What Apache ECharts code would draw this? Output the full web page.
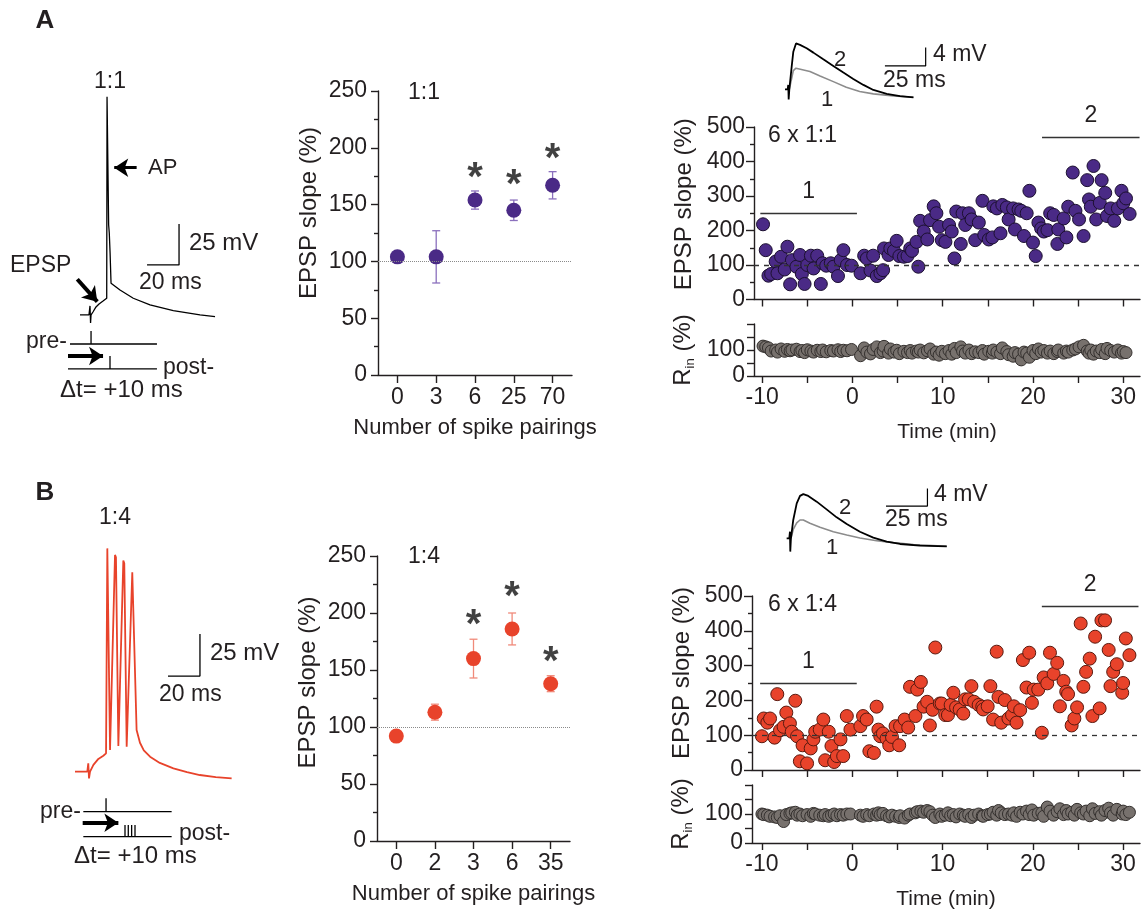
<!DOCTYPE html>
<html>
<head>
<meta charset="utf-8">
<title>STDP 1:1 / 1:4</title>
<script src="https://cdn.jsdelivr.net/npm/echarts@6.0.0/dist/echarts.min.js"></script>
<style>
  html, body { margin: 0; padding: 0; background: #fff; }
  #main { width: 1144px; height: 915px; }
</style>
</head>
<body>
<div id="main"></div>
<script>
// ---- traces (ms, mV) ----
var apTraceA = [[0,-70],[5.6,-70],[6.25,-64.5],[6.6,-74.9],[6.9,-70],[8.1,-68.2],[10,-65.1],[11.9,-63.3],[14.4,-61.5],[16.7,-59.8],[16.9,63.1],[17.6,63.1],[17.9,-15],[18.3,-20],[18.8,-32],[19.4,-50.7],[25,-54.8],[33.3,-59.8],[43.75,-63.9],[58.3,-67.4],[75,-70],[84.4,-71]];
var apTraceB = [[0,-69.2],[7.7,-69.2],[8.3,-64.2],[8.75,-73.2],[9.4,-69.2],[11.5,-65.2],[14.6,-61.6],[17.7,-59.7],[19.4,-58.3],[20.2,63.7],[21.0,62.7],[21.9,-56.3],[22.5,-56.0],[25,59.8],[25.6,58.4],[27.1,-53.9],[27.7,-53.9],[30.2,56.4],[30.8,54.8],[32.3,-54.3],[33.3,-53.3],[35.8,49.5],[36.5,48.5],[38.5,-44.4],[40.6,-52],[43,-56.5],[46.9,-60.3],[53,-64],[61.5,-67.2],[70,-69.5],[78,-71.2],[88,-72.4],[97.9,-73.2]];
var scaleTraceA = [[41.9,-39.5],[61.9,-39.5],[61.9,-14.5]];
var scaleTraceB = [[58.1,-12.3],[78.1,-12.3],[78.1,12.7]];
// stimulus diagrams: line segments and arrows
var diagA = [[[-6.25,-87.7],[48.1,-87.7]], [[6.9,-87.7],[6.9,-79.8]], [[-7.5,-102.9],[48.1,-102.9]], [[18.75,-102.9],[18.75,-95]]];
var diagB = [[[5.2,-93],[60.4,-93]], [[19.4,-93],[19.4,-85.1]], [[5.2,-107.9],[60.4,-107.9]], [[31.25,-107.9],[31.25,-101]], [[33.3,-107.9],[33.3,-101]], [[35.4,-107.9],[35.4,-101]], [[37.5,-107.9],[37.5,-101]]];
var arrowsA = [[[35.4,19.8],[21.4,19.8],3], [[-1.7,-48.2],[10.8,-61.9],4], [[-7.5,-95],[14.4,-95],4]];
var arrowsB = [[[4.8,-99.6],[27.1,-99.6],4]];

// ---- inset EPSPs (ms, mV) ----
var epsp2A = [[0,0],[1.6,0],[2.0,0.95],[2.25,-2.2],[2.66,0],[4.1,4.95],[5.1,8.2],[6.75,10.0],[9.2,9.7],[13.3,8.95],[17.4,8.0],[23.5,6.55],[29.65,5.1],[35.8,3.64],[41.9,2.26],[48.1,0.95],[54.2,-0.15],[62.4,-1.0],[70.55,-1.5],[78.8,-1.75]];
var epsp1A = [[2.66,0],[4.1,2.4],[5.1,4.07],[6.75,4.6],[9.4,4.37],[15.3,3.86],[21.5,2.9],[29.65,1.67],[37.6,0.44],[45.8,-0.5],[54.2,-1.0],[66.5,-1.45],[78.8,-1.75]];
var scaleInsetA = [[61.3,5.1],[86.3,5.1],[86.3,9.1]];
var epsp2B = [[0,0],[1.6,0],[2.0,1.5],[2.2,-3.0],[2.6,0],[4.0,4.15],[6.1,7.9],[8.1,9.6],[10.1,10.0],[13.1,9.6],[18.2,8.3],[24.2,6.56],[30.3,4.75],[36.4,3.24],[44.4,1.5],[52.5,0.15],[60.6,-0.75],[68.7,-1.28],[80.8,-1.66],[97.0,-1.8]];
var epsp1B = [[2.6,0],[4.0,2.0],[6.1,3.5],[8.1,4.15],[10.1,4.15],[14.1,3.4],[20.2,2.5],[28.3,1.5],[36.4,0.75],[44.4,0.08],[54.5,-0.53],[64.6,-0.98],[76.8,-1.43],[97.0,-1.8]];
var scaleInsetB = [[60.2,7.3],[85.3,7.3],[85.3,11.3]];

// ---- summary: EPSP slope vs number of pairings ----
var catA = ['0','3','6','25','70'];
var meanA = [104, 104, 154, 145, 167];
var semA = [3, 23, 8, 9, 12];
var starA = [null, null, 181, 175, 198];
var catB = ['0','2','3','6','35'];
var meanB = [92, 113, 160, 186, 138];
var semB = [3, 7, 17, 14, 7];
var starB = [null, null, 197, 222, 165];

// ---- time courses [min, %] ----
var epspA = [[-9.9,218],[-9.6,143],[-9.3,69],[-9.0,74],[-8.5,110],[-8.3,76],[-7.9,124],[-7.5,87],[-7.2,153],[-6.9,44],
  [-6.7,114],[-6.2,95],[-5.8,129],[-5.6,74],[-5.3,45],[-5.0,100],[-4.6,127],[-4.3,90],[-3.9,127],[-3.5,45],
  [-3.3,105],[-2.9,98],[-2.4,105],[-2.1,95],[-1.6,68],[-1.3,114],[-1.0,143],[-0.6,100],[-0.1,98],
  [0.9,76],[1.3,127],[1.6,119],[2.0,84],[2.3,127],[2.7,68],[3.1,76],[3.4,85],[3.5,148],[4.0,129],
  [4.2,148],[4.6,141],[4.9,170],[5.2,126],[5.7,124],[6.1,126],[6.4,148],[6.6,141],[7.1,167],[7.3,95],
  [7.5,228],[7.9,197],[8.3,174],[8.6,230],[9.0,270],[9.3,250],[9.6,211],[9.9,172],[10.3,167],
  [10.7,216],[11.0,197],[11.3,119],[11.5,255],[12.0,161],[12.2,250],[12.5,216],[12.9,250],[13.2,232],[13.6,172],[14.0,223],
  [14.4,286],[14.6,187],[15.1,174],[15.5,180],[15.6,270],[16.0,264],[16.4,192],[16.6,274],[17.1,267],[17.3,232],
  [17.8,264],[18.0,203],[18.4,261],[18.7,257],[19.0,184],[19.3,250],[19.6,315],[20.0,165],[20.3,126],[20.6,223],
  [20.9,206],[21.2,197],[21.6,201],[21.9,250],[22.3,245],[22.7,161],[22.8,203],[23.4,235],[23.7,180],[23.9,269],
  [24.4,368],[24.7,257],[25.1,232],[25.6,184],[26.0,346],[26.2,290],[26.4,269],[26.7,387],[27.0,232],[27.4,280],
  [27.6,346],[28.0,309],[28.2,242],[28.6,264],[29.0,228],[29.4,264],[29.8,315],[30.0,279],[30.3,293],[30.7,248]];
var rinA = [115,112,108,96,100,92,104,95,102,97,
  100,103,94,98,90,101,96,92,99,94,
  100,93,98,96,101,94,99,97,102,
  78,108,92,85,102,112,90,96,114,88,
  104,92,99,86,95,90,98,88,96,92,
  100,89,97,104,84,92,80,95,86,
  98,84,106,90,112,96,88,100,86,93,
  90,98,84,95,88,100,92,86,108,94,
  82,76,90,84,62,92,88,72,98,86,
  104,92,98,88,96,86,94,100,88,96,
  92,100,104,112,118,96,88,100,84,96,
  90,102,86,106,98,92,100,88,94,90];
var epspB = [[-10.0,97],[-9.8,148],[-9.4,136],[-9.1,148],[-8.6,93],[-8.3,218],[-8.0,114],[-7.6,124],[-7.3,165],[-6.9,134],
  [-6.7,110],[-6.3,199],[-6.1,97],[-5.8,25],[-5.5,71],[-5.0,19],[-4.6,62],[-4.3,88],[-4.1,110],[-3.6,116],
  [-3.2,145],[-3.0,28],[-2.6,110],[-2.3,69],[-2.0,23],[-1.7,40],[-1.3,88],[-1.0,40],[-0.6,155],[-0.2,116],
  [0.9,126],[1.2,155],[1.6,145],[1.9,54],[2.4,49],[2.7,182],[2.9,116],[3.1,97],[3.4,105],[3.8,90],
  [4.1,71],[4.4,95],[4.8,126],[5.2,71],[5.3,126],[5.8,145],[6.2,122],[6.4,239],[7.0,155],[7.2,231],
  [7.6,253],[7.9,182],[8.3,196],[8.6,128],[8.9,173],[9.2,352],[9.7,191],[9.9,191],[10.3,158],[10.6,158],
  [10.9,187],[11.2,222],[11.5,180],[11.9,174],[12.3,162],[12.5,203],[12.9,203],[13.2,241],[13.5,196],[14.0,187],
  [14.4,182],[14.5,174],[15.0,183],[15.3,241],[15.6,145],[16.0,340],[16.2,210],[16.5,136],[16.9,201],[17.3,148],
  [17.7,158],[17.9,183],[18.2,136],[18.6,172],[18.9,316],[19.3,237],[19.6,337],[19.9,193],[20.1,231],[20.6,231],
  [21.0,107],[21.2,266],[21.6,249],[21.9,337],[22.3,276],[22.7,308],[23.0,183],[23.4,256],[23.7,225],[23.9,218],
  [24.3,128],[24.6,148],[24.9,180],[25.3,421],[25.6,239],[25.9,282],[26.3,320],[26.6,155],[26.9,383],[27.4,177],
  [27.6,430],[28.0,430],[28.4,345],[28.6,241],[28.9,282],[29.3,304],[29.9,222],[30.0,250],[30.3,378],[30.7,330]];
var rinB = [100,98,96,92,90,88,94,74,98,102,
  104,106,96,100,94,98,92,102,100,96,
  94,98,92,96,100,94,98,96,100,100,
  96,92,98,94,100,96,104,98,102,94,
  90,96,92,88,94,86,96,100,104,108,
  110,106,112,108,96,88,100,92,96,104,
  94,98,90,100,96,92,98,88,96,100,
  94,92,98,100,106,96,112,104,98,100,
  96,104,92,106,100,110,98,114,96,102,
  104,92,124,110,96,108,118,98,112,100,
  106,96,116,104,100,110,94,118,102,108,
  96,112,120,104,96,116,100,110,98,106];
// horizontal bars marking epochs 1 and 2: [from, to, level]
var barsA = [[-10.2, 0.5, 250, '1'], [21, 31.8, 470, '2']];
var barsB = [[-10.2, 0.5, 250, '1'], [21, 31.7, 470, '2']];
var timeTicks = [-10,-5,0,5,10,15,20,25,30];
var timeLabels = [-10,0,10,20,30];

var FONT = '"Liberation Sans", Arial, Helvetica, sans-serif';
var INK = '#231f20';
var PURPLE = '#4a2a86';
var RED = '#e8432b';

var chart = echarts.init(document.getElementById('main'), null, { renderer: 'canvas' });

var txt = { color: INK, fontFamily: FONT, fontSize: 23 };
var nameTxt = { color: INK, fontFamily: FONT, fontSize: 24 };
var axLine = { show: true, onZero: false, lineStyle: { color: INK, width: 1.4 } };
var tickStyle = { color: INK, width: 1.4 };

function hid(g, min, max) {
  return { gridIndex: g, type: 'value', min: min, max: max, show: false };
}
function catAxis(g, data) {
  return {
    gridIndex: g, type: 'category', data: data, boundaryGap: true,
    axisLine: axLine,
    axisTick: { show: true, alignWithLabel: true, length: 8, lineStyle: tickStyle },
    axisLabel: Object.assign({ margin: 11 }, txt),
    splitLine: { show: false },
    name: 'Number of spike pairings', nameLocation: 'middle', nameGap: 42,
    nameMoveOverlap: false, nameTextStyle: Object.assign({}, txt, { fontSize: 22 })
  };
}
function slopeAxis(g, shift) {
  return {
    gridIndex: g, type: 'value', min: 0, max: 250, interval: 50,
    axisLine: axLine,
    axisTick: { show: true, length: 7, lineStyle: tickStyle },
    minorTick: { show: true, splitNumber: 2, length: 4, lineStyle: tickStyle },
    axisLabel: Object.assign({ margin: 11 }, txt),
    splitLine: { show: false }, minorSplitLine: { show: false },
    name: 'EPSP slope (%)', nameLocation: 'middle', nameGap: 57,
    nameMoveOverlap: false,
    nameTextStyle: Object.assign({ padding: [0, 0, 0, shift] }, nameTxt)
  };
}
function timeAxis(g, min, max, labels) {
  var ax = {
    gridIndex: g, type: 'value', min: min, max: max,
    axisLine: axLine,
    axisTick: { show: true, length: 7, customValues: timeTicks, lineStyle: tickStyle },
    axisLabel: labels ? Object.assign({ margin: 10, customValues: timeLabels }, txt) : { show: false },
    splitLine: { show: false }
  };
  if (labels) {
    ax.name = 'Time (min)'; ax.nameLocation = 'middle'; ax.nameGap = 46;
    ax.nameMoveOverlap = false;
    ax.nameTextStyle = Object.assign({}, txt, { fontSize: 21 });
  }
  return ax;
}
function tcSlopeAxis(g, shift) {
  return {
    gridIndex: g, type: 'value', min: 0, max: 500, interval: 100,
    axisLine: axLine,
    axisTick: { show: true, length: 8, lineStyle: tickStyle },
    minorTick: { show: true, splitNumber: 2, length: 4, lineStyle: tickStyle },
    axisLabel: Object.assign({ margin: 9 }, txt),
    splitLine: { show: false }, minorSplitLine: { show: false },
    name: 'EPSP slope (%)', nameLocation: 'middle', nameGap: 58,
    nameMoveOverlap: false,
    nameTextStyle: Object.assign({ padding: [0, 0, 0, shift] }, nameTxt)
  };
}
function rinAxis(g) {
  return {
    gridIndex: g, type: 'value', min: 0, max: 200, interval: 50,
    axisLine: axLine,
    axisTick: { show: true, length: 7, customValues: [0, 50, 100, 150, 200], lineStyle: tickStyle },
    axisLabel: Object.assign({ margin: 9, customValues: [0, 100] }, txt),
    splitLine: { show: false },
    name: '{r|R}{s|in}{r| (%)}', nameLocation: 'middle', nameGap: 57,
    nameMoveOverlap: false,
    nameTextStyle: {
      rich: {
        r: { fontSize: 24, fontFamily: FONT, color: INK, lineHeight: 28, verticalAlign: 'middle' },
        s: { fontSize: 13, fontFamily: FONT, color: INK, lineHeight: 28, verticalAlign: 'bottom' }
      }
    }
  };
}

function lineSeries(xi, data, color, width) {
  return {
    type: 'line', xAxisIndex: xi, yAxisIndex: xi, data: data, symbol: 'none',
    lineStyle: { color: color, width: width }, silent: true, z: 2
  };
}
function segSeries(xi, segs) {
  return segs.map(function (s) { return lineSeries(xi, s, '#000', 1.3); });
}
function arrowSeries(xi, arrows) {
  return {
    type: 'line', xAxisIndex: xi, yAxisIndex: xi, data: [], symbol: 'none', silent: true,
    markLine: {
      silent: true, symbol: ['none', 'arrow'], symbolSize: 14, animation: false,
      label: { show: false },
      data: arrows.map(function (a) {
        return [{ coord: a[0], lineStyle: { color: '#000', width: a[2], type: 'solid' } }, { coord: a[1] }];
      })
    }
  };
}
function errBar(color) {
  return function (params, api) {
    var lo = api.coord([api.value(0), api.value(1)]);
    var hi = api.coord([api.value(0), api.value(2)]);
    var w = 4;
    var st = { stroke: color, lineWidth: 1.3 };
    return {
      type: 'group', children: [
        { type: 'line', shape: { x1: lo[0], y1: lo[1], x2: hi[0], y2: hi[1] }, style: st },
        { type: 'line', shape: { x1: lo[0] - w, y1: lo[1], x2: lo[0] + w, y2: lo[1] }, style: st },
        { type: 'line', shape: { x1: hi[0] - w, y1: hi[1], x2: hi[0] + w, y2: hi[1] }, style: st }
      ]
    };
  };
}
function summarySeries(xi, mean, sem, stars, color, barColor) {
  return [
    {
      type: 'custom', xAxisIndex: xi, yAxisIndex: xi, z: 2, silent: true,
      renderItem: errBar(barColor),
      encode: { x: 0, y: [1, 2] },
      data: mean.map(function (m, i) { return [i, m - sem[i], m + sem[i]]; })
    },
    {
      type: 'scatter', xAxisIndex: xi, yAxisIndex: xi, z: 3, data: mean,
      symbolSize: 15, itemStyle: { color: color, opacity: 1 },
      markLine: {
        silent: true, symbol: 'none', animation: false, label: { show: false },
        lineStyle: { color: '#8a8a8a', type: 'dotted', width: 1 },
        data: [{ yAxis: 100 }]
      }
    },
    {
      type: 'scatter', xAxisIndex: xi, yAxisIndex: xi, z: 4, silent: true,
      symbolSize: 2, itemStyle: { color: 'rgba(0,0,0,0)' },
      data: stars.map(function (v, i) { return v == null ? null : [i, v]; }).filter(Boolean),
      label: { show: true, position: 'inside', formatter: '*', fontSize: 40, fontWeight: 'bold', fontFamily: FONT, color: '#111', offset: [0, 10] }
    }
  ];
}
function courseSeries(xi, pts, bars, color, border) {
  var ml = [{ yAxis: 100, lineStyle: { type: [5, 5], color: '#333', width: 1.3 }, label: { show: false } }];
  bars.forEach(function (b) {
    ml.push([
      { coord: [b[0], b[2]], lineStyle: { type: 'solid', color: '#333', width: 1.3 },
        label: { show: true, position: 'middle', formatter: b[3], distance: 10, color: INK, fontSize: 23, fontFamily: FONT } },
      { coord: [b[1], b[2]] }
    ]);
  });
  return {
    type: 'scatter', xAxisIndex: xi, yAxisIndex: xi, data: pts, symbolSize: 13,
    itemStyle: { color: color, borderColor: border, borderWidth: 1, opacity: 1 },
    markLine: { silent: true, symbol: 'none', animation: false, data: ml }
  };
}
function rinSeries(xi, pts, vals) {
  return {
    type: 'scatter', xAxisIndex: xi, yAxisIndex: xi, symbolSize: 12,
    data: vals.map(function (v, i) { return [pts[i][0], v]; }),
    itemStyle: { color: '#77716d', borderColor: '#34302e', borderWidth: 1, opacity: 1 }
  };
}

var labels = [
  ['A', 45, 21, 'center', 26, 'bold'],
  ['1:1', 110, 82, 'center'],
  ['AP', 148, 168, 'left', 22],
  ['EPSP', 10, 266, 'left'],
  ['25 mV', 189, 243, 'left', 24],
  ['20 ms', 139, 283, 'left'],
  ['pre-', 26, 342, 'left'],
  ['post-', 163, 368, 'left'],
  ['\u0394t= +10 ms', 60, 390, 'left', 24],
  ['1:1', 408, 93, 'left'],
  ['4 mV', 933, 55, 'left'],
  ['25 ms', 883, 81, 'left'],
  ['2', 840, 60, 'center', 22],
  ['1', 827, 100, 'center', 22],
  ['6 x 1:1', 768, 136, 'left'],
  ['B', 45, 493, 'center', 26, 'bold'],
  ['1:4', 115, 518, 'center'],
  ['25 mV', 210, 653, 'left', 24],
  ['20 ms', 159, 695, 'left'],
  ['pre-', 40, 812, 'left'],
  ['post-', 179, 834, 'left'],
  ['\u0394t= +10 ms', 74, 856, 'left', 24],
  ['1:4', 408, 557, 'left'],
  ['4 mV', 934, 495, 'left'],
  ['25 ms', 885, 520, 'left'],
  ['2', 845, 508, 'center', 22],
  ['1', 832, 548, 'center', 22],
  ['6 x 1:4', 768, 605, 'left']
];

var option = {
  backgroundColor: '#ffffff',
  animation: false,
  grid: [
    { left: 64, top: 85.4, width: 176, height: 288.6 },
    { left: 378, top: 91, width: 194, height: 284 },
    { left: 776.85, top: 34.3, width: 163, height: 73.3 },
    { left: 754, top: 127, width: 386, height: 172.5 },
    { left: 754, top: 324, width: 386, height: 52 },
    { left: 62.2, top: 537.8, width: 172.8, height: 310.8 },
    { left: 377, top: 556, width: 193, height: 285 },
    { left: 778.4, top: 485.3, width: 173.3, height: 70.7 },
    { left: 752, top: 596, width: 388, height: 174 },
    { left: 752, top: 785, width: 388, height: 58 }
  ].map(function (g) { g.outerBoundsMode = 'none'; g.containLabel = false; return g; }),
  xAxis: [
    hid(0, -10, 100),
    catAxis(1, catA),
    hid(2, -5, 95),
    timeAxis(3, -10.9, 31.85, false),
    timeAxis(4, -10.9, 31.85, true),
    hid(5, -8, 100),
    catAxis(6, catB),
    hid(7, -5, 100),
    timeAxis(8, -11.1, 31.87, false),
    timeAxis(9, -11.1, 31.87, true)
  ],
  yAxis: [
    hid(0, -106, 70),
    slopeAxis(1, 40),
    hid(2, -4, 12),
    tcSlopeAxis(3, 18),
    rinAxis(4),
    hid(5, -115, 70),
    slopeAxis(6, 32),
    hid(7, -4, 12),
    tcSlopeAxis(8, 20),
    rinAxis(9)
  ],
  graphic: labels.map(function (l) {
    return {
      type: 'text', x: l[1], y: l[2], silent: true,
      style: {
        text: l[0], fill: INK, fontFamily: FONT, fontSize: l[4] || 23, fontWeight: l[5] || 'normal',
        align: l[3], verticalAlign: 'middle'
      }
    };
  }),
  series: [].concat(
    [lineSeries(0, apTraceA, '#000', 1.3), lineSeries(0, scaleTraceA, '#000', 1.3)],
    segSeries(0, diagA), [arrowSeries(0, arrowsA)],
    summarySeries(1, meanA, semA, starA, PURPLE, '#8b70bd'),
    [lineSeries(2, epsp1A, '#8c8c8c', 1.6), lineSeries(2, epsp2A, '#000', 1.8), lineSeries(2, scaleInsetA, '#000', 1.2)],
    [courseSeries(3, epspA, barsA, PURPLE, '#1c1030'), rinSeries(4, epspA, rinA)],
    [lineSeries(5, apTraceB, RED, 1.8), lineSeries(5, scaleTraceB, '#000', 1.3)],
    segSeries(5, diagB), [arrowSeries(5, arrowsB)],
    summarySeries(6, meanB, semB, starB, RED, '#f08a7a'),
    [lineSeries(7, epsp1B, '#8c8c8c', 1.6), lineSeries(7, epsp2B, '#000', 1.8), lineSeries(7, scaleInsetB, '#000', 1.2)],
    [courseSeries(8, epspB, barsB, RED, '#5a1a10'), rinSeries(9, epspB, rinB)]
  )
};

chart.setOption(option);
window.addEventListener('resize', function () { chart.resize(); });
</script>
</body>
</html>
